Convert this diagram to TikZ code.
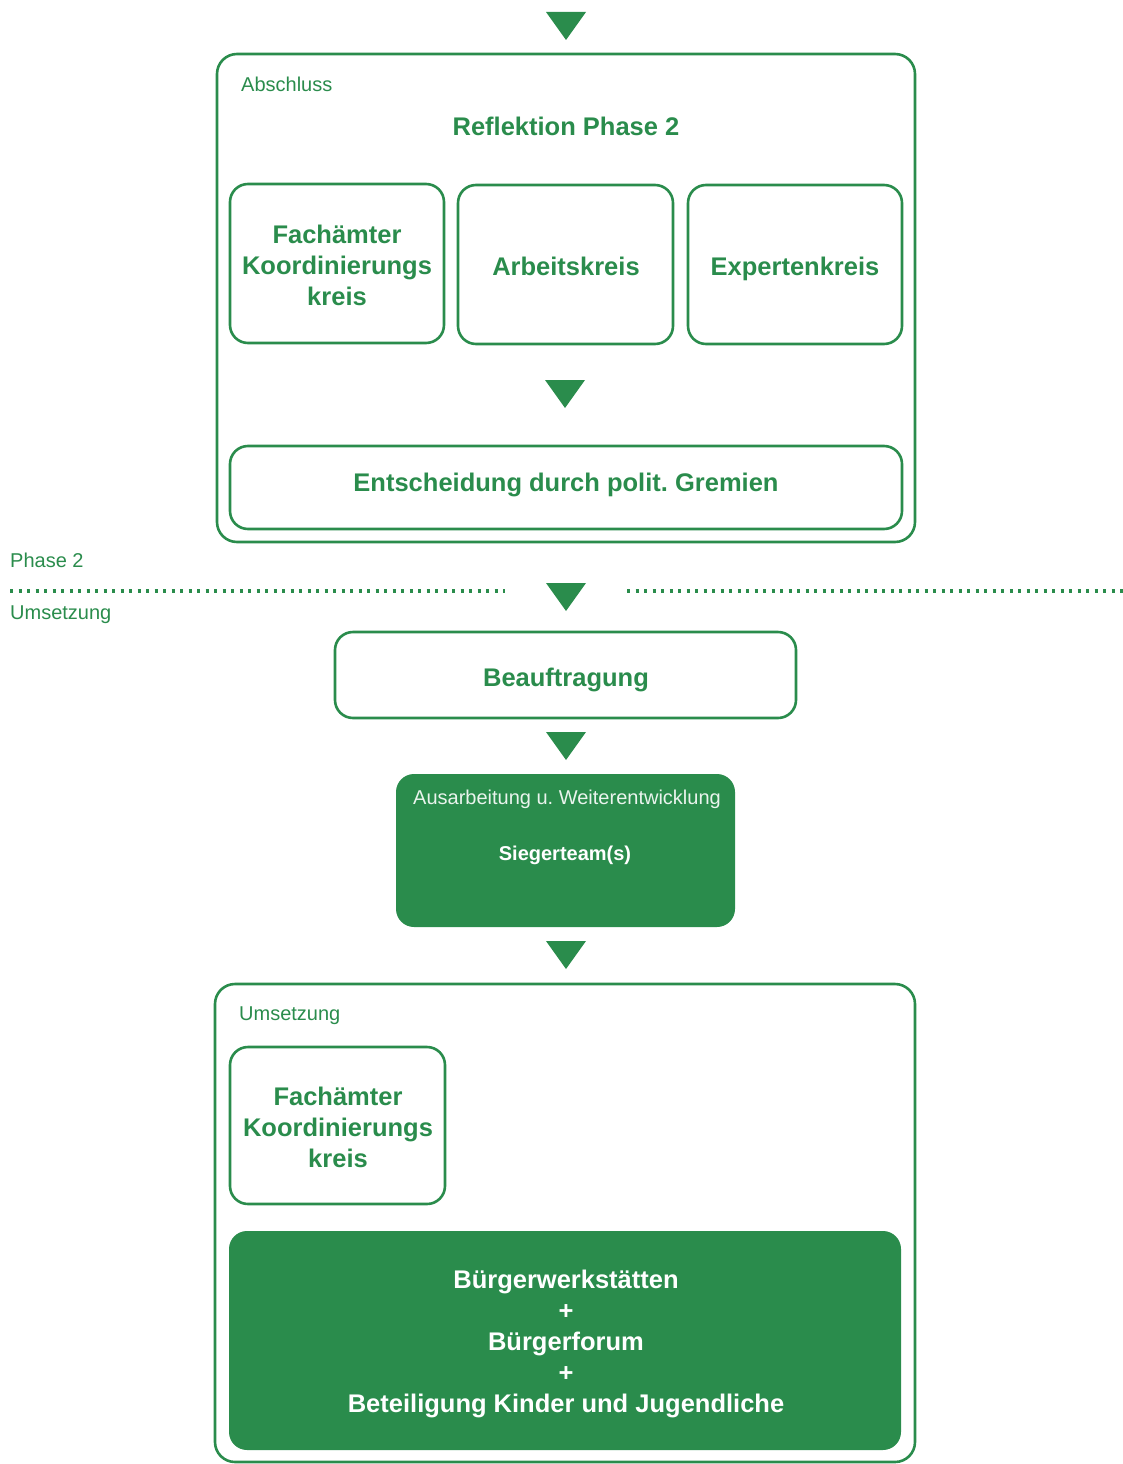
\documentclass[tikz,border=0pt]{standalone}
\usepackage{fontspec}
\setmainfont{Liberation Sans}
\definecolor{grn}{RGB}{42,140,76}
\begin{document}
\frenchspacing
\begin{tikzpicture}[x=1pt,y=-1pt,
  frame/.style={draw=grn, line width=2.6pt, rounded corners=20pt, inner sep=0pt},
  box/.style={draw=grn, line width=2.6pt, rounded corners=18pt, inner sep=0pt},
  fillbox/.style={fill=grn, rounded corners=18pt, inner sep=0pt},
  btext/.style={inner sep=0pt, align=center, text=grn,
    font=\bfseries\fontsize{25.5}{31}\selectfont},
  wtext/.style={btext, text=white, font=\bfseries\fontsize{25.5}{30.8}\selectfont},
  lbl/.style={text=grn, font=\fontsize{20}{24}\selectfont, inner sep=0pt},
  dots/.style={draw=grn, line width=3.2pt, dash pattern=on 3.2pt off 5.3pt},
  tri/.style={fill=grn}]
\useasboundingbox (0,0) rectangle (1123,1464);
\newcommand\tri[2]{\fill[tri] (#1-20,#2) -- (#1+20,#2) -- (#1,#2+28) -- cycle;}

% top arrow
\tri{566}{12}

% Abschluss frame
\node[frame, minimum width=698pt, minimum height=488pt] (abschluss) at (566,298) {};
\node[lbl, anchor=base west] (abschlusslbl) at (241,91) {Abschluss};
\node[btext, anchor=base] (reflektion) at (566,135) {Reflektion Phase 2};
\node[box, minimum width=214pt, minimum height=159pt] (fach1) at (337,263.5) {};
\node[btext] (fach1t) at (337,265) {Fachämter\\Koordinierungs\\kreis};
\node[box, minimum width=215pt, minimum height=159pt] (arbeit) at (565.5,264.5) {};
\node[btext, anchor=base] (arbeitt) at (566,275) {Arbeitskreis};
\node[box, minimum width=214pt, minimum height=159pt] (experten) at (795,264.5) {};
\node[btext, anchor=base] (expertent) at (795,275) {Expertenkreis};
\tri{565}{380}
\node[box, minimum width=672pt, minimum height=83pt] (entscheidung) at (566,487.5) {};
\node[btext, anchor=base] (entscheidungt) at (566,491) {Entscheidung durch polit. Gremien};

% phase divider
\node[lbl, anchor=base west] (phase) at (10,567) {Phase 2};
\node[lbl, anchor=base west] (umsetzunglbl) at (10,619) {Umsetzung};
\coordinate (dl1) at (10,591);
\coordinate (dl2) at (505,591);
\coordinate (dr1) at (627,591);
\coordinate (dr2) at (1123,591);
\draw[dots] (dl1) -- (dl2);
\draw[dots] (dr1) -- (dr2);
\tri{566}{583}

% Beauftragung
\node[box, minimum width=461pt, minimum height=86pt] (beauftragung) at (565.5,675) {};
\node[btext, anchor=base] (beauftragungt) at (566,686) {Beauftragung};
\tri{566}{732}

% Siegerteam
\node[fillbox, minimum width=339pt, minimum height=153pt] (sieger) at (565.5,850.5) {};
\node[lbl, text=white!90!grn, anchor=base] (ausarb) at (567,804) {Ausarbeitung u. Weiterentwicklung};
\node[text=white, font=\bfseries\fontsize{20}{24}\selectfont, inner sep=0pt, anchor=base] (siegerlbl) at (565,860) {Siegerteam(s)};
\tri{566}{941}

% Umsetzung frame
\node[frame, minimum width=700pt, minimum height=478pt] (umsetzung) at (565,1223) {};
\node[lbl, anchor=base west] (umsetzunglbl2) at (239,1020) {Umsetzung};
\node[box, minimum width=215pt, minimum height=157pt] (fach2) at (337.5,1125.5) {};
\node[btext] (fach2t) at (338,1127.5) {Fachämter\\Koordinierungs\\kreis};
\node[fillbox, minimum width=672pt, minimum height=219pt] (buerger) at (565,1340.5) {};
\node[wtext] (buergert) at (566,1344)
  {Bürgerwerkstätten\\+\\Bürgerforum\\+\\Beteiligung Kinder und Jugendliche};
\end{tikzpicture}
\end{document}
